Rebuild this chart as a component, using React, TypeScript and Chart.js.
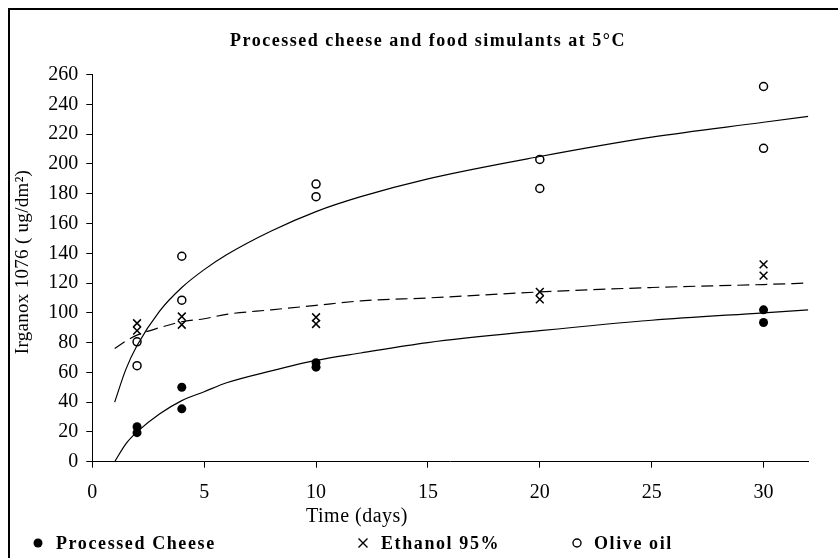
import React, { useEffect, useRef } from 'react';
import { Chart, registerables } from 'chart.js';

Chart.register(...registerables);

const CHART_TITLE = 'Processed cheese and food simulants at 5°C';
const X_TITLE = 'Time (days)';
const Y_TITLE = 'Irganox 1076 ( ug/dm²)';
const X_TICKS = [0, 5, 10, 15, 20, 25, 30];
const Y_TICKS = [0, 20, 40, 60, 80, 100, 120, 140, 160, 180, 200, 220, 240, 260];

const LEGEND_LABELS = ['Processed Cheese', 'Ethanol 95%', 'Olive oil'];

const cheeseX = [2, 2, 4, 4, 10, 10, 30, 30];
const cheeseY = [23.5, 19.5, 50, 35.5, 66.5, 63.5, 102, 93.5];
const ethanolX = [2, 2, 4, 4, 10, 10, 20, 20, 30, 30];
const ethanolY = [88, 93, 92, 97.5, 92.5, 97, 109, 114, 132.5, 125];
const oliveX = [2, 2, 4, 4, 10, 10, 20, 20, 30, 30];
const oliveY = [80.5, 64.5, 138, 108.5, 186.5, 178, 203, 183.5, 252, 210.5];

const fitX = [1, 1.5, 2, 3, 4, 5, 6, 8, 10, 12, 15, 20, 25, 30, 32];
const cheeseFit = [0, 12, 20, 32, 41, 47, 53, 61, 68, 73, 80, 88, 95, 100, 102];
const ethanolFit = [76, 81, 85, 90, 94, 96, 99, 102, 105, 108, 110, 114, 117, 119, 120];
const oliveFit = [40, 62, 78, 101, 117, 129, 139, 155, 168, 178, 190, 205, 218, 228, 232];

const pts = (xs: number[], ys: number[]) => xs.map((x, i) => ({ x, y: ys[i] }));

const SERIF = '"Liberation Serif", "Times New Roman", serif';

const overlay = {
  id: 'overlay',
  afterDraw(chart: any) {
    const ctx = chart.ctx as any;
    ctx.save();
    // frame
    ctx.strokeStyle = '#000';
    ctx.lineWidth = 2;
    ctx.beginPath();
    ctx.moveTo(1, chart.height);
    ctx.lineTo(1, 1);
    ctx.lineTo(chart.width, 1);
    ctx.stroke();

    ctx.fillStyle = '#000';
    // title
    ctx.font = `bold 18px ${SERIF}`;
    ctx.letterSpacing = '1.5px';
    ctx.textAlign = 'center';
    ctx.textBaseline = 'middle';
    ctx.fillText(CHART_TITLE, 420, 33);

    // x title
    ctx.font = `20px ${SERIF}`;
    ctx.letterSpacing = '0.5px';
    ctx.fillText(X_TITLE, 349, 509);

    // y title
    ctx.save();
    ctx.translate(15, 254);
    ctx.rotate(-Math.PI / 2);
    ctx.font = `19px ${SERIF}`;
    ctx.letterSpacing = '0.3px';
    ctx.fillText(Y_TITLE, 0, 0);
    ctx.restore();

    // legend
    const ly = 535;
    ctx.font = `bold 18px ${SERIF}`;
    ctx.letterSpacing = '1.6px';
    ctx.textAlign = 'left';
    const markX = [30, 355, 569];
    const textX = [48, 373, 586];
    ctx.beginPath();
    ctx.arc(markX[0], ly, 4.5, 0, Math.PI * 2);
    ctx.fill();
    ctx.lineWidth = 1.4;
    ctx.beginPath();
    ctx.moveTo(markX[1] - 4.5, ly - 4.5);
    ctx.lineTo(markX[1] + 4.5, ly + 4.5);
    ctx.moveTo(markX[1] + 4.5, ly - 4.5);
    ctx.lineTo(markX[1] - 4.5, ly + 4.5);
    ctx.stroke();
    ctx.beginPath();
    ctx.arc(markX[2], ly, 4, 0, Math.PI * 2);
    ctx.stroke();
    LEGEND_LABELS.forEach((t, i) => ctx.fillText(t, textX[i], ly + 1));
    ctx.restore();
  },
};

export default function App() {
  const ref = useRef<HTMLCanvasElement | null>(null);

  useEffect(() => {
    if (!ref.current) return;
    const lineBase = {
      showLine: true,
      pointRadius: 0,
      borderColor: '#000',
      borderWidth: 1.2,
      cubicInterpolationMode: 'monotone' as const,
      fill: false,
    };
    const chart = new Chart(ref.current, {
      type: 'scatter',
      data: {
        datasets: [
          { ...lineBase, label: 'cheese fit', data: pts(fitX, cheeseFit) },
          { ...lineBase, label: 'ethanol fit', data: pts(fitX, ethanolFit), borderDash: [12, 6] },
          { ...lineBase, label: 'olive fit', data: pts(fitX, oliveFit) },
          {
            label: LEGEND_LABELS[0],
            data: pts(cheeseX, cheeseY),
            pointStyle: 'circle',
            pointRadius: 4.5,
            backgroundColor: '#000',
            borderColor: '#000',
            borderWidth: 0,
          },
          {
            label: LEGEND_LABELS[1],
            data: pts(ethanolX, ethanolY),
            pointStyle: 'crossRot',
            pointRadius: 5.5,
            borderColor: '#000',
            borderWidth: 1.5,
          },
          {
            label: LEGEND_LABELS[2],
            data: pts(oliveX, oliveY),
            pointStyle: 'circle',
            pointRadius: 4,
            backgroundColor: '#fff',
            borderColor: '#000',
            borderWidth: 1.5,
          },
        ],
      },
      options: {
        animation: false,
        responsive: false,
        events: [],
        layout: { padding: { left: 0, top: 66.6, right: 29.7, bottom: 56.3 } },
        plugins: {
          legend: { display: false },
          title: { display: false },
          tooltip: { enabled: false },
        },
        scales: {
          x: {
            type: 'linear',
            min: 0,
            max: 32,
            afterBuildTicks: (s: any) => {
              s.ticks = X_TICKS.map((v) => ({ value: v }));
            },
            afterFit: (s: any) => {
              s.height = 40;
            },
            ticks: {
              autoSkip: false,
              maxRotation: 0,
              padding: 13,
              color: '#000',
              font: { family: SERIF, size: 20 },
            },
            grid: { drawOnChartArea: false, tickLength: 6, color: '#000', tickWidth: 1 },
            border: { color: '#000', width: 1 },
          },
          y: {
            type: 'linear',
            min: 0,
            max: 260,
            afterBuildTicks: (s: any) => {
              s.ticks = Y_TICKS.map((v) => ({ value: v }));
            },
            afterFit: (s: any) => {
              s.width = 84.3;
            },
            ticks: {
              padding: 8,
              color: '#000',
              font: { family: SERIF, size: 20 },
            },
            grid: { drawOnChartArea: false, tickLength: 6, color: '#000', tickWidth: 1 },
            border: { color: '#000', width: 1 },
          },
        },
      },
      plugins: [overlay],
    });
    return () => chart.destroy();
  }, []);

  return (
    <div style={{ position: 'fixed', left: 8, top: 8, width: 830, height: 550, background: '#fff' }}>
      <canvas ref={ref} width={830} height={550} style={{ display: 'block' }} />
    </div>
  );
}
